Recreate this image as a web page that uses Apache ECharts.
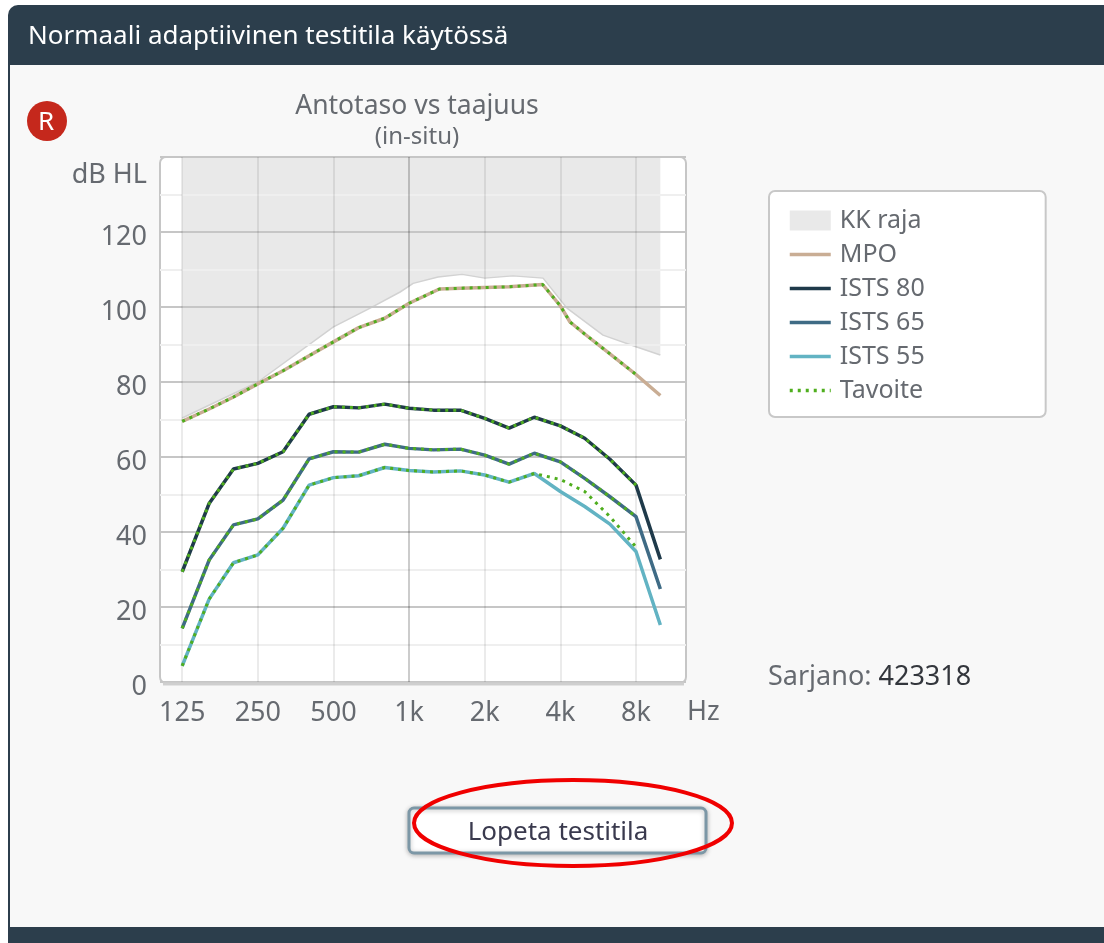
<!DOCTYPE html>
<html>
<head>
<meta charset="utf-8">
<title>Antotaso vs taajuus</title>
<script src="https://cdn.jsdelivr.net/npm/echarts@6/dist/echarts.min.js"></script>
<style>
    html, body { margin: 0; padding: 0; background: #fff; }
    #chart { width: 1104px; height: 943px; }
</style>
</head>
<body>
<div id="chart"></div>
<script>
// taajuudet (Hz)
const freqs = [125, 160, 200, 250, 315, 400, 500, 630, 800, 1000, 1250, 1600, 2000, 2500, 3150, 4000, 5000, 6300, 8000, 10000];
const tickFreqs = [125, 250, 500, 1000, 2000, 4000, 8000];
const tickLabels = ['125', '250', '500', '1k', '2k', '4k', '8k'];

const mpoFreqs = [125, 160, 200, 250, 315, 400, 500, 630, 800, 1000, 1320, 1600, 2000, 2500, 3400, 4000, 4370, 5000, 6300, 8000, 10000];
const mpo = [69.5, 72.8, 76, 79.5, 83, 87, 90.7, 94.5, 97, 101, 104.8, 105, 105.2, 105.4, 106, 100.3, 96, 92.8, 87.5, 82, 76.4];

const kkFreqs = [125, 250, 500, 700, 921, 1038, 1304, 1625, 2000, 2590, 3413, 4250, 5912, 8000, 10000];
const kkRaja = [70.4, 80, 94.7, 99.7, 104, 106.3, 108, 108.7, 107.7, 108.3, 107.7, 99.7, 92.5, 89.4, 87.2];

const ists80 = [29.4, 47.6, 56.8, 58.3, 61.4, 71.4, 73.4, 73.1, 74.1, 73, 72.5, 72.5, 70.3, 67.7, 70.6, 68.3, 65, 59.4, 52.5, 32.7];
const ists65 = [14.3, 32.5, 41.9, 43.5, 48.5, 59.5, 61.4, 61.3, 63.4, 62.3, 61.9, 62.1, 60.5, 58.1, 61, 58.7, 54.3, 49.4, 44.1, 24.8];
const ists55 = [4.3, 22.1, 31.8, 33.9, 41, 52.5, 54.5, 55, 57.2, 56.4, 56, 56.3, 55.2, 53.3, 55.6, 50.8, 46.8, 42.1, 34.8, 15.2];

// tavoite: 8 kHz asti
const targetMpo = [69.5, 72.8, 76, 79.5, 83, 87, 90.7, 94.5, 97, 101, 104.8, 105, 105.2, 105.4, 106, 100.3, 96, 92.8, 87.5, 82];
const target80 = [29.4, 47.6, 56.8, 58.3, 61.4, 71.4, 73.4, 73.1, 74.1, 73, 72.5, 72.5, 70.3, 67.7, 70.6, 68.3, 65, 59.4, 52.5];
const target65 = [14.3, 32.5, 41.9, 43.5, 48.5, 59.5, 61.4, 61.3, 63.4, 62.3, 61.9, 62.1, 60.5, 58.1, 61, 58.7, 54.3, 49.4, 44.1];
const target55 = [4.3, 22.1, 31.8, 33.9, 41, 52.5, 54.5, 55, 57.2, 56.4, 56, 56.3, 55.2, 53.3, 55.6, 54, 50.8, 44.1, 36];

const FONT = '"Noto Sans", sans-serif';
const GREY = '#666a70';

function pairs(xs, ys) {
    return ys.map(function (y, i) { return [xs[i], y]; });
}

function curve(name, xs, ys, color) {
    return {
        name: name,
        type: 'line',
        data: pairs(xs, ys),
        symbol: 'none',
        z: 5,
        lineStyle: { color: color, width: 3.5 },
        itemStyle: { color: color }
    };
}

function targetLine(xs, ys) {
    return {
        name: 'Tavoite',
        type: 'line',
        data: pairs(xs, ys),
        symbol: 'none',
        z: 6,
        lineStyle: { color: '#4fae1e', width: 3, type: [3, 5] },
        itemStyle: { color: '#4fae1e' }
    };
}

// viivaselitteessä ei ympyrää
function lineItem(name) {
    return { name: name, itemStyle: { color: 'rgba(0,0,0,0)', opacity: 0 } };
}

let myChart = echarts.init(document.getElementById('chart'));

let option = {
    animation: false,
    textStyle: { fontFamily: FONT },
    title: {
        text: 'Antotaso vs taajuus',
        subtext: '(in-situ)',
        left: 412,
        top: 88,
        textAlign: 'center',
        itemGap: 5,
        textStyle: { color: GREY, fontSize: 26.5, fontWeight: 'normal', fontFamily: FONT },
        subtextStyle: { color: GREY, fontSize: 24, fontFamily: FONT }
    },
    legend: {
        left: 769,
        top: 191,
        orient: 'vertical',
        align: 'left',
        data: [
            { name: 'KK raja', icon: 'rect', itemStyle: { color: '#e9e9e9' } },
            lineItem('MPO'), lineItem('ISTS 80'), lineItem('ISTS 65'), lineItem('ISTS 55'), lineItem('Tavoite')
        ],
        itemWidth: 41,
        itemHeight: 20,
        itemGap: 9,
        padding: [17, 121, 14, 19],
        backgroundColor: '#fff',
        borderColor: '#c8c8c8',
        borderWidth: 2,
        borderRadius: 6,
        lineStyle: { width: 3.5 },
        textStyle: { color: GREY, fontSize: 25, fontFamily: FONT, padding: [0, 0, 0, 4] }
    },
    grid: { left: 160, top: 157, width: 526, height: 525, containLabel: false },
    xAxis: {
        type: 'log',
        logBase: 2,
        min: 102,
        max: 12650,
        z: 2,
        name: 'Hz',
        nameLocation: 'end',
        nameGap: 1,
        nameMoveOverlap: false,
        nameTextStyle: { color: GREY, fontSize: 27, fontFamily: FONT, verticalAlign: 'top', padding: [17, 0, 0, 0] },
        axisLine: { show: false },
        axisTick: { show: false, customValues: tickFreqs },
        axisLabel: {
            customValues: tickFreqs,
            color: GREY,
            fontSize: 27,
            margin: 18,
            formatter: function (v) { return tickLabels[tickFreqs.indexOf(Math.round(v))]; }
        },
        splitLine: {
            show: true,
            lineStyle: {
                width: 2,
                color: ['rgba(0,0,0,0.08)', 'rgba(0,0,0,0.08)', 'rgba(0,0,0,0.08)', 'rgba(0,0,0,0.2)', 'rgba(0,0,0,0.08)', 'rgba(0,0,0,0.08)', 'rgba(0,0,0,0.08)']
            }
        }
    },
    yAxis: {
        type: 'value',
        min: 0,
        max: 140,
        interval: 10,
        z: 2,
        name: 'dB HL',
        nameLocation: 'end',
        nameGap: -32,
        nameTextStyle: { color: GREY, fontSize: 27, fontFamily: FONT, align: 'right', padding: [0, 13, 0, 0] },
        axisLine: { show: false },
        axisTick: { show: false },
        axisLabel: {
            color: GREY,
            fontSize: 27,
            margin: 13,
            verticalAlign: 'top',
            lineHeight: 11,
            formatter: function (v) { return v % 20 === 0 && v <= 120 ? String(v) : ''; }
        },
        splitLine: {
            show: true,
            lineStyle: { width: 2, color: ['#c6c6c6', '#efefef'] }
        }
    },
    series: [
        {
            name: 'KK raja',
            type: 'line',
            data: pairs(kkFreqs, kkRaja),
            symbol: 'none',
            z: 1,
            lineStyle: { color: '#d2d2d2', width: 1.5 },
            itemStyle: { color: '#e9e9e9' },
            areaStyle: { color: '#e9e9e9', opacity: 1, origin: 'end' }
        },
        curve('MPO', mpoFreqs, mpo, '#c9ad94'),
        curve('ISTS 80', freqs, ists80, '#1f3a4a'),
        curve('ISTS 65', freqs, ists65, '#3f6b85'),
        curve('ISTS 55', freqs, ists55, '#62b3c3'),
        targetLine(mpoFreqs, targetMpo),
        targetLine(freqs, target80),
        targetLine(freqs, target65),
        targetLine(freqs, target55)
    ],
    graphic: { elements: [
        // ikkuna
        { type: 'rect', z: -20, shape: { x: 8, y: 5, width: 1200, height: 1000, r: 10 }, style: { fill: '#2c3e4c' } },
        { type: 'rect', z: -19, shape: { x: 10, y: 65, width: 1100, height: 862 }, style: { fill: '#f8f8f8' } },
        { type: 'text', z: 10, style: { x: 28, y: 37, text: 'Normaali adaptiivinen testitila käytössä', fill: '#fff', font: '26px ' + FONT, textVerticalAlign: 'middle' } },
        // R-merkki
        { type: 'circle', z: 10, shape: { cx: 47, cy: 121, r: 20 }, style: { fill: '#c5281c' } },
        { type: 'text', z: 11, style: { x: 46, y: 123, text: 'R', fill: '#fff', font: '26px ' + FONT, textAlign: 'center', textVerticalAlign: 'middle' } },
        // kuvaajan kehys
        { type: 'rect', z: -10, shape: { x: 160, y: 157, width: 526, height: 526, r: 6 }, style: { fill: '#fff', stroke: '#c6c6c6', lineWidth: 2 } },
        { type: 'line', z: 3, shape: { x1: 163, y1: 684, x2: 684, y2: 684 }, style: { stroke: '#cfcfcf', lineWidth: 3 } },
        // sarjanumero
        { type: 'text', z: 10, style: {
            x: 768, y: 677, text: '{a|Sarjano: }{b|423318}', textVerticalAlign: 'middle',
            rich: { a: { fill: GREY, font: '27px ' + FONT }, b: { fill: '#33363c', font: '27px ' + FONT } }
        } },
        // painike
        { type: 'rect', z: 10, shape: { x: 409, y: 808, width: 297, height: 45, r: 5 }, style: { fill: '#fff', stroke: '#7c97a6', lineWidth: 3, shadowBlur: 5, shadowColor: 'rgba(0,0,0,0.25)', shadowOffsetY: 1 } },
        { type: 'text', z: 11, style: { x: 558, y: 833, text: 'Lopeta testitila', fill: '#3a3a4e', font: '26px ' + FONT, textAlign: 'center', textVerticalAlign: 'middle' } },
        { type: 'ellipse', z: 12, shape: { cx: 573, cy: 823, rx: 159, ry: 43 }, style: { fill: 'none', stroke: '#f00000', lineWidth: 4 } }
    ] }
};

myChart.setOption(option);
</script>
</body>
</html>
